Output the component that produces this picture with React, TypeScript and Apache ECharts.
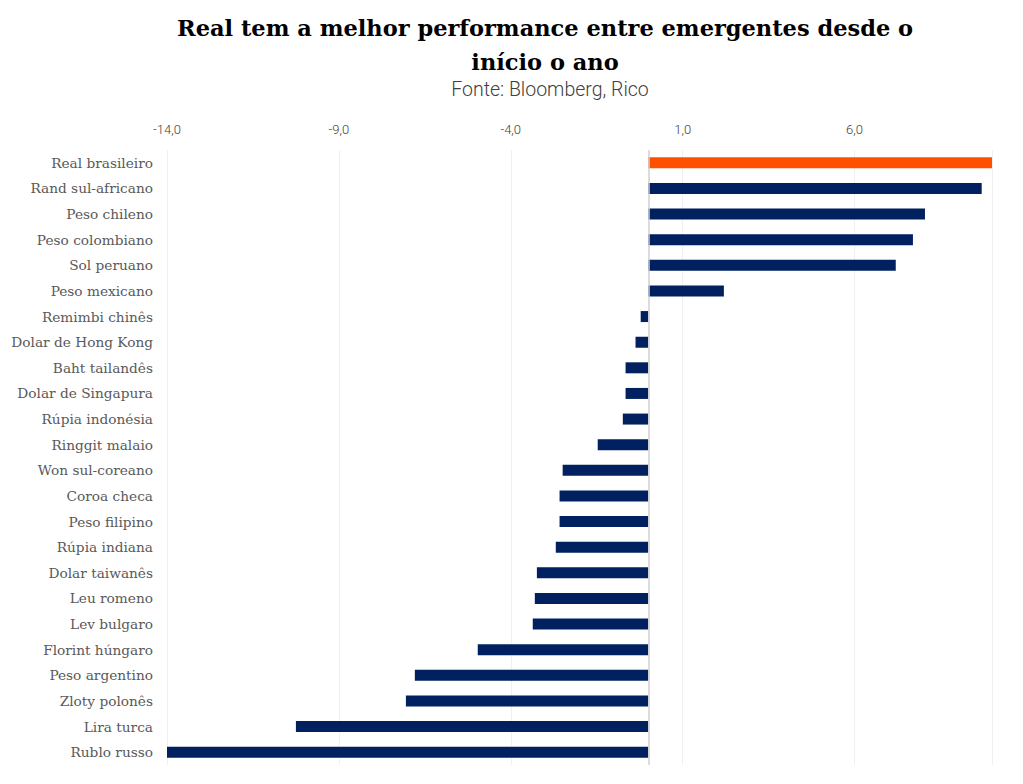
import React, { useEffect, useRef } from "react";
import * as echarts from "echarts";

const categories = [
  "Real brasileiro",
  "Rand sul-africano",
  "Peso chileno",
  "Peso colombiano",
  "Sol peruano",
  "Peso mexicano",
  "Remimbi chinês",
  "Dolar de Hong Kong",
  "Baht tailandês",
  "Dolar de Singapura",
  "Rúpia indonésia",
  "Ringgit malaio",
  "Won sul-coreano",
  "Coroa checa",
  "Peso filipino",
  "Rúpia indiana",
  "Dolar taiwanês",
  "Leu romeno",
  "Lev bulgaro",
  "Florint húngaro",
  "Peso argentino",
  "Zloty polonês",
  "Lira turca",
  "Rublo russo",
];

const values = [
  10.0, 9.7, 8.05, 7.7, 7.2, 2.2, -0.22, -0.37, -0.66, -0.66, -0.74, -1.47,
  -2.49, -2.58, -2.58, -2.69, -3.24, -3.3, -3.36, -4.96, -6.79, -7.05, -10.25,
  -14.0,
];

const highlight = "Real brasileiro";

const titleLines = [
  "Real tem a melhor performance entre emergentes desde o",
  "início o ano",
];
const subtitle = "Fonte: Bloomberg, Rico";

export default function App() {
  const ref = useRef<HTMLDivElement>(null);
  useEffect(() => {
    if (!ref.current) return;
    const chart = echarts.init(ref.current, undefined, { renderer: "svg" });
    chart.setOption({
      animation: false,
      title: [
        {
          text: titleLines.join("\n"),
          left: 532,
          top: -2,
          textAlign: "center",
          textStyle: {
            fontFamily: "DejaVu Serif",
            fontWeight: "bold",
            fontSize: 22.5,
            color: "#000000",
            lineHeight: 34,
          },
        },
        {
          text: subtitle,
          left: 537,
          top: 66,
          textAlign: "center",
          textStyle: {
            fontFamily: "Roboto",
            fontWeight: 300,
            fontSize: 19.5,
            color: "#404040",
          },
        },
      ],
      grid: { left: 159, right: 23, top: 142, bottom: 11, containLabel: false },
      xAxis: {
        type: "value",
        position: "top",
        min: -14,
        max: 10,
        interval: 5,
        axisLine: { show: false },
        axisTick: { show: false },
        splitLine: { show: true, lineStyle: { color: "#f0f0f0", width: 1 } },
        axisLabel: {
          showMaxLabel: false,
          margin: 14,
          fontFamily: "Roboto",
          fontWeight: 300,
          fontSize: 13,
          color: "#404040",
          formatter: (v: number) => v.toFixed(1).replace(".", ","),
        },
      },
      yAxis: {
        type: "category",
        data: categories,
        inverse: true,
        axisLine: { show: false },
        axisTick: { show: false },
        splitLine: { show: false },
        axisLabel: {
          margin: 14,
          fontFamily: "DejaVu Serif",
          fontSize: 13.7,
          color: "#595959",
        },
      },
      series: [
        {
          type: "bar",
          barWidth: 11,
          data: values.map((v, i) => ({
            value: v,
            itemStyle: {
              color: categories[i] === highlight ? "#FF5000" : "#00205F",
            },
          })),
          markLine: {
            silent: true,
            symbol: "none",
            label: { show: false },
            lineStyle: { color: "#d0d0d0", type: "solid", width: 1.5 },
            data: [{ xAxis: 0 }],
          },
        },
      ],
    });
    return () => chart.dispose();
  }, []);
  return <div ref={ref} style={{ width: 1007, height: 768 }} />;
}
